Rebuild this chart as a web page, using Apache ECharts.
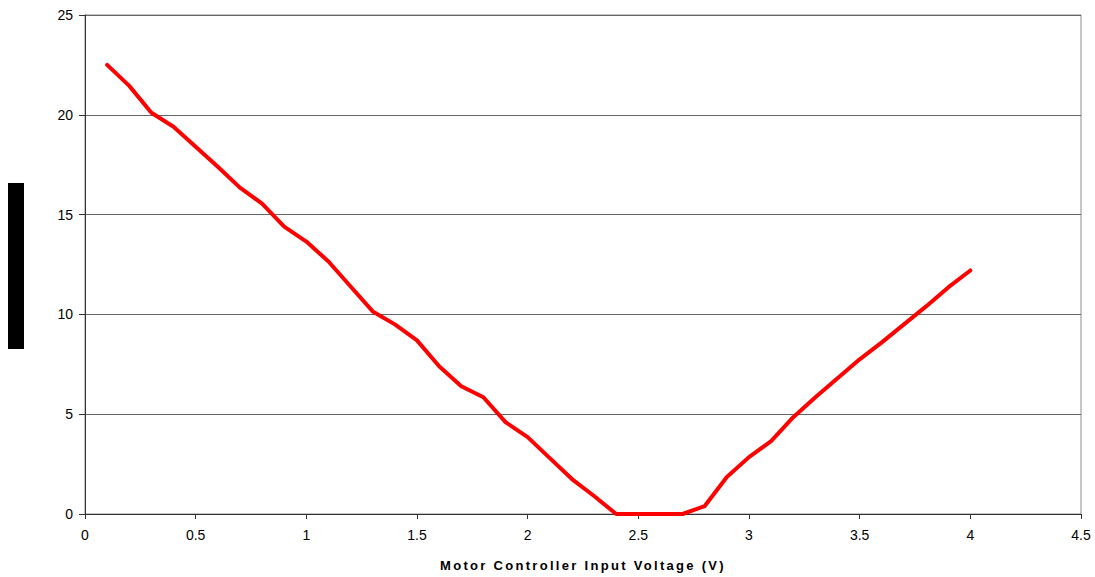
<!DOCTYPE html>
<html>
<head>
<meta charset="utf-8">
<script src="https://cdn.jsdelivr.net/npm/echarts@6/dist/echarts.min.js"></script>
<style>html,body{margin:0;padding:0;background:#fff;}#c{width:1095px;height:577px;}</style>
</head>
<body>
<div id="c"></div>
<script>
var voltage = [0.1,0.2,0.3,0.4,0.5,0.6,0.7,0.8,0.9,1.0,1.1,1.2,1.3,1.4,1.5,1.6,1.7,1.8,1.9,2.0,2.1,2.2,2.3,2.4,2.5,2.6,2.7,2.8,2.9,3.0,3.1,3.2,3.3,3.4,3.5,3.6,3.7,3.8,3.9,4.0];
var values = [22.5,21.45,20.1,19.4,18.4,17.4,16.35,15.55,14.4,13.65,12.65,11.4,10.15,9.5,8.7,7.4,6.4,5.85,4.6,3.85,2.8,1.75,0.9,0,0,0,0,0.4,1.85,2.85,3.65,4.85,5.85,6.8,7.75,8.6,9.5,10.4,11.35,12.2];
var xTitle = 'Motor Controller Input Voltage (V)';

var chart = echarts.init(document.getElementById('c'), null, {renderer:'svg'});
var pts = voltage.map(function(v,i){return [v, values[i]];});
chart.setOption({
  animation:false,
  backgroundColor:'#ffffff',
  grid:{left:85,top:15,right:14,bottom:62,show:true,borderColor:'#8c8c8c',borderWidth:1,backgroundColor:'transparent'},
  graphic:[{type:'rect',left:8,top:183,shape:{width:16,height:166},style:{fill:'#000000'}}],
  xAxis:{
    type:'value',min:0,max:4.5,interval:0.5,
    name:xTitle,nameLocation:'middle',nameGap:45,
    nameTextStyle:{fontFamily:'Liberation Sans, Arial',fontSize:13,fontWeight:'bold',color:'#000'},
    axisLine:{show:true,onZero:false,lineStyle:{color:'#333',width:1}},
    axisTick:{show:true,length:5,inside:false,lineStyle:{color:'#333'}},
    axisLabel:{fontFamily:'Liberation Sans, Arial',fontSize:14,color:'#000',margin:14},
    splitLine:{show:false}
  },
  yAxis:{
    type:'value',min:0,max:25,interval:5,
    axisLine:{show:true,lineStyle:{color:'#333',width:1}},
    axisTick:{show:true,length:6,inside:false,lineStyle:{color:'#333'}},
    axisLabel:{fontFamily:'Liberation Sans, Arial',fontSize:14,color:'#000',margin:12},
    splitLine:{show:true,lineStyle:{color:'#666',width:1}}
  },
  series:[{
    type:'line',data:pts,symbol:'none',
    lineStyle:{color:'#ff0000',width:4,join:'round',cap:'round'},
    z:5
  }]
});
function spaceTitle(){
  var ts = document.querySelectorAll('#c text');
  for (var i=0;i<ts.length;i++){
    if (ts[i].textContent === xTitle){ ts[i].style.letterSpacing = '2.3px'; }
  }
}
spaceTitle();
chart.on('finished', spaceTitle);
setTimeout(spaceTitle, 50);
</script>
</body>
</html>
